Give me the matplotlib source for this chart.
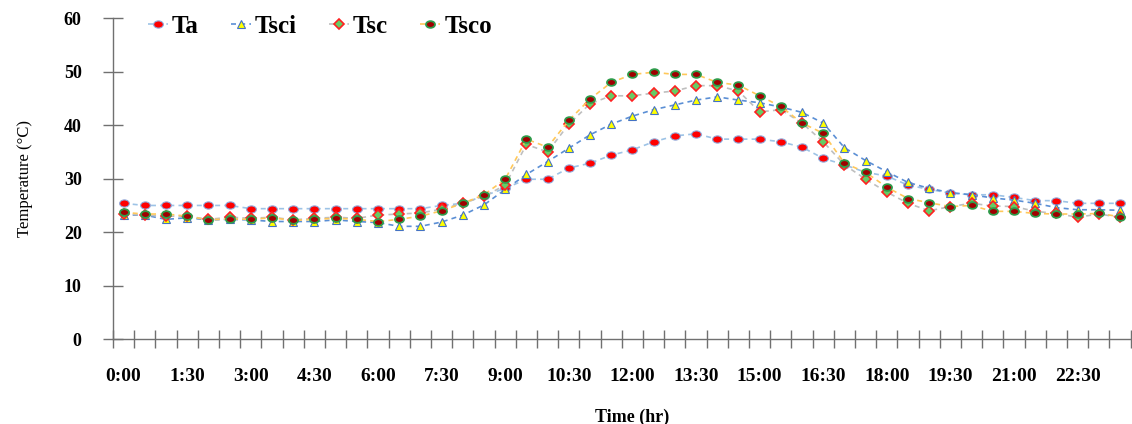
import numpy as np
import matplotlib
matplotlib.use('Agg')
import matplotlib.pyplot as plt
from matplotlib.path import Path

plt.rcParams['font.family'] = ['Liberation Serif', 'DejaVu Serif']

# half-hour readings, 0:00 .. 23:30
ta = [25.4, 25.0, 25.0, 25.0, 25.0, 25.0, 24.4, 24.4, 24.4, 24.4, 24.4, 24.4,
      24.4, 24.4, 24.4, 25.0, 25.4, 26.8, 28.2, 29.9, 29.9, 32.0, 32.9, 34.4,
      35.4, 36.9, 38.0, 38.4, 37.4, 37.4, 37.4, 36.9, 35.9, 33.8, 32.6, 31.2,
      30.5, 28.8, 28.0, 27.3, 27.0, 27.0, 26.5, 25.9, 25.9, 25.4, 25.4, 25.4]
tsci = [23.2, 23.2, 22.4, 22.7, 22.3, 22.4, 22.3, 22.0, 22.0, 22.0, 22.3, 22.0,
        21.8, 21.1, 21.1, 21.9, 23.2, 25.1, 28.0, 30.8, 33.2, 35.7, 38.2, 40.2,
        41.7, 42.9, 43.8, 44.7, 45.3, 44.7, 44.2, 43.4, 42.4, 40.4, 35.8, 33.4,
        31.3, 29.3, 28.2, 27.4, 27.0, 26.4, 26.0, 25.4, 24.6, 24.2, 24.2, 24.1]
tsc = [23.4, 23.2, 23.0, 23.0, 22.4, 22.8, 22.6, 22.8, 22.3, 22.6, 22.8, 22.6,
       23.2, 23.4, 23.6, 24.3, 25.4, 26.7, 28.8, 36.4, 35.0, 40.2, 44.0, 45.5,
       45.5, 46.0, 46.4, 47.4, 47.4, 46.4, 42.5, 42.9, 40.4, 36.9, 32.6, 29.9,
       27.5, 25.4, 24.0, 24.8, 25.4, 24.9, 24.8, 23.9, 23.5, 22.8, 23.4, 22.8]
tsco = [23.7, 23.4, 23.4, 23.0, 22.3, 22.5, 22.4, 22.7, 22.2, 22.4, 22.6, 22.4,
        22.0, 22.4, 23.0, 24.0, 25.4, 27.0, 29.9, 37.4, 35.9, 40.9, 44.9, 48.0,
        49.5, 49.9, 49.5, 49.5, 48.0, 47.5, 45.5, 43.5, 40.4, 38.5, 32.9, 31.2,
        28.4, 26.3, 25.5, 24.8, 25.0, 23.9, 23.9, 23.5, 23.4, 23.4, 23.5, 22.9]

tick_labels = ['0:00', '1:30', '3:00', '4:30', '6:00', '7:30', '9:00', '10:30',
               '12:00', '13:30', '15:00', '16:30', '18:00', '19:30', '21:00', '22:30']
label_step = 3

x = np.arange(len(ta))

# slightly flattened circle like the excel markers
circ = Path.unit_circle()
ellipse = Path(circ.vertices * [1.35, 1.0], circ.codes)

fig = plt.figure(figsize=(11.32, 4.24), dpi=100)
ax = fig.add_axes([0.0998, 0.2, 0.899, 0.757])

dash = (0, (3, 2.5))
ax.plot(x, ta, linestyle=dash, color='#9DC3E6', lw=1.2, marker=ellipse, ms=7,
        mfc='#FF0000', mec='#8FAADC', mew=0.8, label='Ta')
ax.plot(x, tsci, linestyle=dash, color='#5B8FD5', lw=1.2, marker='^', ms=6,
        mfc='#FFFF00', mec='#4472C4', mew=0.8, label='Tsci')
ax.plot(x, tsc, linestyle=dash, color='#BFBFBF', lw=1.2, marker='D', ms=5,
        mfc='#66CC66', mec='#FF2020', mew=1.2, label='Tsc')
ax.plot(x, tsco, linestyle=dash, color='#FFC85A', lw=1.2, marker=ellipse, ms=6.5,
        mfc='#A00000', mec='#2E9B4A', mew=1.3, label='Tsco')

ax.set_ylim(0, 60)
ax.set_yticks(np.arange(0, 61, 10))
ax.set_xlim(-0.5, len(ta) - 0.5)
ax.set_xticks(np.arange(-0.5, len(ta), 1))
ax.set_xticklabels([])
ax.set_xticks(x[::label_step], minor=True)
ax.set_xticklabels(tick_labels, minor=True)

for s in ['top', 'right']:
    ax.spines[s].set_visible(False)
for s in ['left', 'bottom']:
    ax.spines[s].set_color('#707070')
    ax.spines[s].set_linewidth(1.0)

ax.tick_params(axis='y', direction='inout', length=15, width=1.0, color='#707070',
               pad=15, labelsize=13)
ax.tick_params(axis='x', which='major', direction='inout', length=13, width=1.0,
               color='#707070')
ax.tick_params(axis='x', which='minor', length=0, pad=21, labelsize=14)
for lab in ax.get_yticklabels() + ax.get_xticklabels(minor=True):
    lab.set_fontweight('bold')

ax.set_ylabel('Temperature (°C)', fontsize=12, labelpad=22)
ax.set_xlabel('Time (hr)', fontsize=13, fontweight='bold', labelpad=11)
ax.xaxis.set_label_coords(0.51, -0.215)

ax.legend(loc='upper left', bbox_to_anchor=(0.012, 1.08), ncol=4, frameon=False,
          prop={'size': 18, 'weight': 'bold'}, handlelength=0.8, handletextpad=0.15,
          columnspacing=1.3, markerscale=1.0)

fig.savefig('out.png', dpi=100)
